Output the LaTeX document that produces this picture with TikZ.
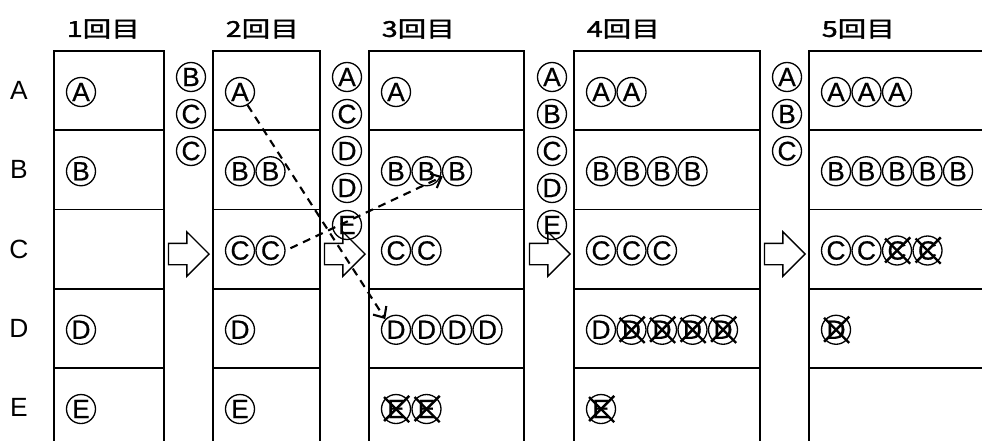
\documentclass[tikz,border=0pt]{standalone}
\usepackage{fontspec}
\setmainfont{Liberation Sans}
\newfontfamily\jpfont[FakeBold=1.5]{Noto Sans CJK JP}
\newfontfamily\tokfont[FakeBold=0.6]{Liberation Sans}
\usetikzlibrary{positioning,calc,shapes.arrows,arrows.meta}

\begin{document}
\begin{tikzpicture}
  \tikzstyle{cell}=[draw,line width=1pt,anchor=north west,minimum height=1.585cm,inner sep=0pt]
  \tikzstyle{tok}=[draw,circle,line width=0.75pt,minimum size=0.58cm,inner sep=0pt,font=\tokfont\fontsize{15}{15}\selectfont]
  \tikzstyle{xline}=[line width=1.4pt,shorten <=-1pt,shorten >=-2pt]
  \tikzstyle{gone}=[tok,append after command={(\tikzlastnode.225) edge[xline] (\tikzlastnode.45) (\tikzlastnode.135) edge[xline] (\tikzlastnode.315)}]
  \tikzstyle{blk}=[draw,single arrow,line width=0.8pt,minimum height=0.81cm,minimum width=0.86cm,single arrow head extend=0.23cm,inner xsep=0pt,inner ysep=0.2cm,anchor=tip]
  \tikzstyle{flow}=[-{Straight Barb[length=5pt,width=9pt]},line width=1.2pt,dash pattern=on 4.5pt off 3.4pt]
  \tikzstyle{head}=[anchor=west,inner sep=0pt,font=\jpfont\fontsize{12.5}{12.5}\selectfont]

  \useasboundingbox (0,0) rectangle (19.64,-8.8);
  \clip (0,0) rectangle (19.64,-8.8);

  % the five rounds, one column of cells each
  \foreach \c/\x/\w in {1/1.06/2.2,2/4.24/2.14,3/7.36/3.1,4/11.46/3.72,5/16.16/5}
    \foreach \r [count=\i from 0] in {a,b,c,d,e}
      \node[cell,minimum width=\w cm] (c\c\r) at (\x,-1-1.585*\i) {};

  \foreach \r/\t in {a/A,b/B,c/C,d/D,e/E}
    \node (l\r) at ($(c1\r.west)+(-0.68,0)$) {\fontsize{15}{15}\selectfont\t};

  \foreach \c in {1,...,5}
    \node[head] (h\c) at ($(c\c a.north west)+(0.27,0.42)$) {\scalebox{1.3}[1]{\c 回目}};

  % contents of the cells
  \foreach \c/\r/\list in {1/a/{tok/A},1/b/{tok/B},1/d/{tok/D},1/e/{tok/E},
      2/a/{tok/A},2/b/{tok/B,tok/B},2/c/{tok/C,tok/C},2/d/{tok/D},2/e/{tok/E},
      3/a/{tok/A},3/b/{tok/B,tok/B,tok/B},3/c/{tok/C,tok/C},3/d/{tok/D,tok/D,tok/D,tok/D},3/e/{gone/E,gone/E},
      4/a/{tok/A,tok/A},4/b/{tok/B,tok/B,tok/B,tok/B},4/c/{tok/C,tok/C,tok/C},4/d/{tok/D,gone/D,gone/D,gone/D,gone/D},4/e/{gone/E},
      5/a/{tok/A,tok/A,tok/A},5/b/{tok/B,tok/B,tok/B,tok/B,tok/B},5/c/{tok/C,tok/C,gone/C,gone/C},5/d/{gone/D}}
    \foreach \s/\t [count=\k] in \list
      \node[\s] (t\c\r\k) at ($(c\c\r.west)+(-0.05+0.61*\k,-0.03)$) {\t};

  % queues between the rounds
  \foreach \g/\x/\list in {1/3.82/{B,C,C},2/6.94/{A,C,D,D,E},3/11.04/{A,B,C,D,E},4/15.74/{A,B,C}}
    \foreach \t [count=\k] in \list
      \node[tok] (q\g\k) at (\x,-0.80-0.74*\k) {\t};

  \foreach \g [evaluate=\g as \n using int(\g+1)] in {1,...,4}
    \node[blk] (ar\g) at ($(c\n c.west)+(-0.04,-0.1)$) {};

  \draw[flow] (t2a1.300) -- (t3d1.135);
  \draw[flow,shorten <=3pt] (t2c2.east) -- (t3b3.200);
\end{tikzpicture}
\end{document}
